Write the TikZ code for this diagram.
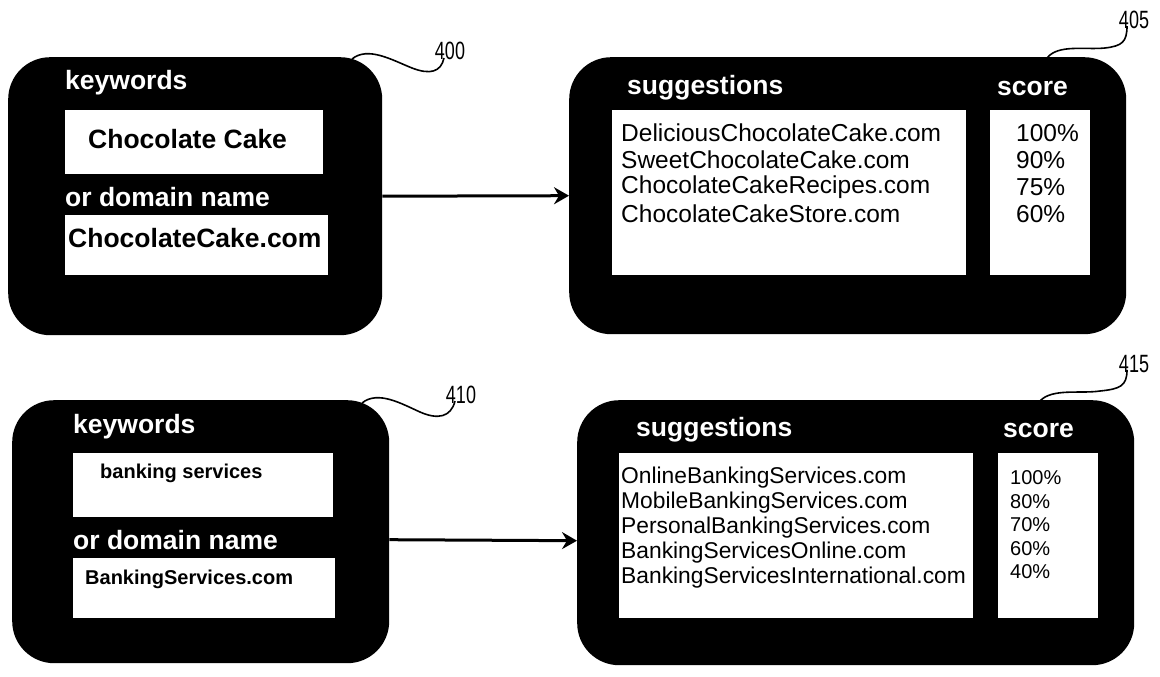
\documentclass[tikz,border=0pt]{standalone}
\usepackage{fontspec}
\setmainfont{Liberation Sans}
\usetikzlibrary{arrows.meta}

\tikzset{
  panel/.style={fill=black, rounded corners=42pt, inner sep=0pt, anchor=north west},
  field/.style={fill=white, inner sep=0pt, anchor=north west},
  head/.style={text=white, font=\fontsize{26.5}{30}\selectfont\bfseries, anchor=west, inner sep=0pt},
  entry/.style={font=\fontsize{26.5}{30}\selectfont\bfseries, anchor=west, inner sep=0pt},
  smallentry/.style={font=\fontsize{20}{24}\selectfont\bfseries, anchor=west, inner sep=0pt},
  listA/.style={font=\fontsize{24.5}{27}\selectfont, anchor=west, inner sep=0pt},
  listB/.style={font=\fontsize{22.8}{25}\selectfont, anchor=west, inner sep=0pt},
  scoreB/.style={font=\fontsize{20}{23}\selectfont, anchor=west, inner sep=0pt},
  flow/.style={line width=3pt, -{Stealth[length=15pt,width=17pt,inset=5pt]}},
  leader/.style={line width=1.6pt},
  refnum/.style={font=\fontsize{25}{28}\selectfont, inner sep=0pt}
}

\begin{document}
\begin{tikzpicture}[x=1pt, y=-1pt]
\useasboundingbox (0,0) rectangle (1160,677);

% ---- first example: chocolate cake ----
\node[panel, minimum width=374pt, minimum height=278pt] (b400) at (8,57) {};
\node[head] (kw1) at (65,83) {keywords};
\node[field, minimum width=258pt, minimum height=64pt] (k400) at (65,110) {};
\node[entry] (kt1) at (88,139) {Chocolate Cake};
\node[head] (dn1) at (65,197) {or domain name};
\node[field, minimum width=263pt, minimum height=60pt] (d400) at (65,215) {};
\node[entry] (dt1) at (68,238) {ChocolateCake.com};

\node[panel, minimum width=557pt, minimum height=277pt] (b405) at (569,57) {};
\node[head] (sg1) at (627,88) {suggestions};
\node[head] (sc1) at (997,88) {score};
\node[field, minimum width=354pt, minimum height=165pt] (s405) at (612,110) {};
\node[field, minimum width=100pt, minimum height=165pt] (c405) at (990,110) {};
\foreach \t [count=\i] in {DeliciousChocolateCake.com, SweetChocolateCake.com,
    ChocolateCakeRecipes.com, ChocolateCakeStore.com}
  \node[listA] (sa\i) at (621,{133+27*(\i-1)}) {\t};
\foreach \t [count=\i] in {100\%, 90\%, 75\%, 60\%}
  \node[listA] (pa\i) at (1016,{133+27*(\i-1)}) {\t};

\draw[flow] (b400.east) -- (b405.west);

% ---- second example: banking services ----
\node[panel, minimum width=377pt, minimum height=263pt] (b410) at (12,400) {};
\node[head] (kw2) at (73,427) {keywords};
\node[field, minimum width=260pt, minimum height=64pt] (k410) at (73,453) {};
\node[smallentry] (kt2) at (100,473) {banking services};
\node[head] (dn2) at (73,540) {or domain name};
\node[field, minimum width=262pt, minimum height=60pt] (d410) at (73,558) {};
\node[smallentry] (dt2) at (85,579) {BankingServices.com};

\node[panel, minimum width=557pt, minimum height=265pt] (b415) at (577,400) {};
\node[head] (sg2) at (636,430) {suggestions};
\node[head] (sc2) at (1003,430) {score};
\node[field, minimum width=354pt, minimum height=165pt] (s415) at (619,453) {};
\node[field, minimum width=100pt, minimum height=165pt] (c415) at (998,453) {};
\foreach \t [count=\i] in {OnlineBankingServices.com, MobileBankingServices.com,
    PersonalBankingServices.com, BankingServicesOnline.com,
    BankingServicesInternational.com}
  \node[listB] (sb\i) at (621,{478+24.8*(\i-1)}) {\t};
\foreach \t [count=\i] in {100\%, 80\%, 70\%, 60\%, 40\%}
  \node[scoreB] (pb\i) at (1010,{478+23.5*(\i-1)}) {\t};

\draw[flow] ([yshift=-8pt]b410.east) -- ([yshift=-8pt]b415.west);

% ---- reference numerals with wavy leaders ----
\node[refnum] (n400) at (450,51) {\scalebox{0.72}[1]{400}};
\node[refnum] (n405) at (1134,20) {\scalebox{0.72}[1]{405}};
\node[refnum] (n410) at (461,395) {\scalebox{0.72}[1]{410}};
\node[refnum] (n415) at (1134,364) {\scalebox{0.72}[1]{415}};

\coordinate (e400) at (352,59);
\coordinate (e405) at (1047,58);
\coordinate (e410) at (362,403);
\coordinate (e415) at (1040,401);

\draw[leader] (e400) .. controls (368,46) and (392,60) .. (412,68)
  .. controls (430,75) and (441,72) .. ([xshift=-6pt,yshift=2pt]n400.south);
\draw[leader] (e405) .. controls (1058,44) and (1085,50) .. (1105,48)
  .. controls (1122,46) and (1127,42) .. ([xshift=-7pt,yshift=3pt]n405.south);
\draw[leader] (e410) .. controls (378,390) and (402,404) .. (420,412)
  .. controls (438,420) and (451,417) .. ([xshift=-6pt,yshift=3pt]n410.south);
\draw[leader] (e415) .. controls (1052,388) and (1080,394) .. (1100,391)
  .. controls (1120,389) and (1127,386) .. ([xshift=-7pt,yshift=3pt]n415.south);
\end{tikzpicture}
\end{document}
